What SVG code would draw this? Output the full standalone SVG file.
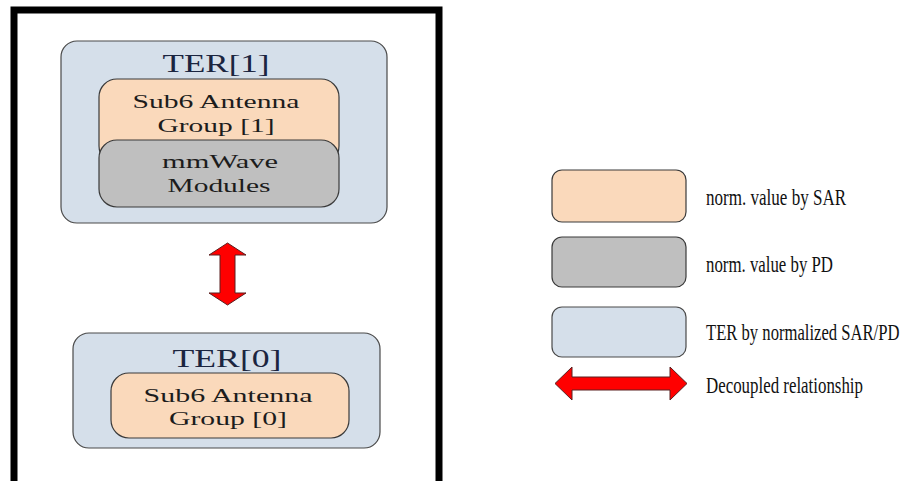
<svg xmlns="http://www.w3.org/2000/svg" width="904" height="481" viewBox="0 0 904 481">
<style>
.ter{fill:#d5dfea;stroke:#4a4a4a;stroke-width:1.2}
.sar{fill:#fad9bb;stroke:#3a3a3a;stroke-width:1.2}
.pd{fill:#bfbfbf;stroke:#3a3a3a;stroke-width:1.2}
.arr{fill:#ff0000;stroke:#5a2020;stroke-width:1}
.t{font-family:"Liberation Serif","Times New Roman",serif;fill:#1c1c1c;text-anchor:middle}
.tt{font-family:"Liberation Serif","Times New Roman",serif;fill:#1b2540;font-size:26px;text-anchor:middle}
.n{font-size:18px}
.lg{font-family:"Liberation Serif","Times New Roman",serif;fill:#111;font-size:23px}
</style>
<rect x="0" y="0" width="904" height="481" fill="#ffffff"/>
<rect x="14" y="10" width="425" height="520" fill="none" stroke="#000" stroke-width="7"/>
<g id="ter1">
<rect class="ter" x="61" y="41" width="326" height="182" rx="16"/>
<text class="tt" x="216" y="72" textLength="107" lengthAdjust="spacingAndGlyphs">TER[1]</text>
</g>
<g id="sub6-1">
<rect class="sar" x="99" y="79" width="240" height="85" rx="18"/>
<text class="t n" x="216" y="108" textLength="167" lengthAdjust="spacingAndGlyphs">Sub6 Antenna</text>
<text class="t n" x="216" y="132" textLength="117" lengthAdjust="spacingAndGlyphs">Group [1]</text>
</g>
<g id="mmwave">
<rect class="pd" x="99" y="140" width="240" height="67" rx="18"/>
<text class="t n" x="220" y="168" textLength="116" lengthAdjust="spacingAndGlyphs">mmWave</text>
<text class="t n" x="219" y="192" textLength="103" lengthAdjust="spacingAndGlyphs">Modules</text>
</g>
<g id="ter0">
<rect class="ter" x="73" y="333" width="307" height="115" rx="16"/>
<text class="tt" x="227" y="367" textLength="109" lengthAdjust="spacingAndGlyphs">TER[0]</text>
</g>
<g id="sub6-0">
<rect class="sar" x="111" y="373" width="238" height="65" rx="18"/>
<text class="t n" x="228" y="402" textLength="169" lengthAdjust="spacingAndGlyphs">Sub6 Antenna</text>
<text class="t n" x="228" y="425" textLength="118" lengthAdjust="spacingAndGlyphs">Group [0]</text>
</g>
<g id="connectors">
<polygon class="arr" points="227.5,243 246,255 235,255 235,293 246,293 227.5,305 209,293 220,293 220,255 209,255"/>
</g>
<g id="legend">
<g id="leg-sar">
<rect class="sar" x="552" y="170" width="134" height="52" rx="10"/>
<text class="lg" transform="translate(706,205) scale(0.73,1)" textLength="192" lengthAdjust="spacingAndGlyphs">norm. value by SAR</text>
</g>
<g id="leg-pd">
<rect class="pd" x="552" y="237" width="134" height="50" rx="10"/>
<text class="lg" transform="translate(706,272) scale(0.73,1)" textLength="174" lengthAdjust="spacingAndGlyphs">norm. value by PD</text>
</g>
<g id="leg-ter">
<rect class="ter" x="552" y="307" width="134" height="50" rx="10"/>
<text class="lg" transform="translate(706,340) scale(0.73,1)" textLength="265" lengthAdjust="spacingAndGlyphs">TER by normalized SAR/PD</text>
</g>
<g id="leg-arrow">
<polygon class="arr" points="555,383.5 572,367 572,377 670,377 670,367 687,383.5 670,400 670,390 572,390 572,400"/>
<text class="lg" transform="translate(706,393) scale(0.73,1)" textLength="215" lengthAdjust="spacingAndGlyphs">Decoupled relationship</text>
</g>
</g>
</svg>
